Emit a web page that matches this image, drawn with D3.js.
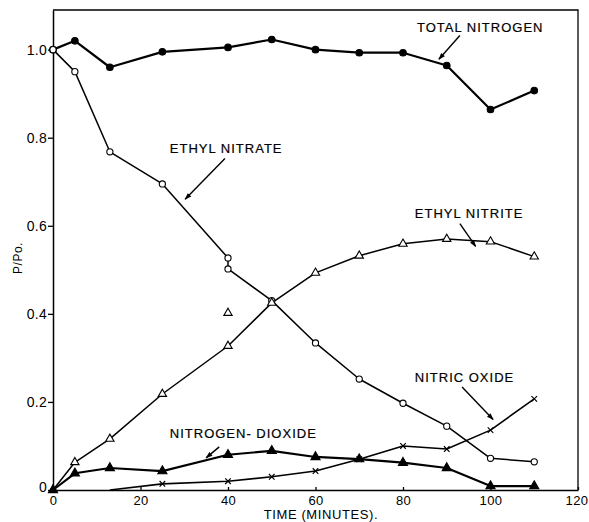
<!DOCTYPE html>
<html>
<head>
<meta charset="utf-8">
<script src="https://cdn.jsdelivr.net/npm/d3@7"></script>
<style>
  body { margin: 0; background: #fff; }
  svg { font-family: "Liberation Sans", Arial, sans-serif; }
</style>
</head>
<body>
<div id="chart"></div>
<script>
// time in minutes
const times = [0, 5, 13, 25, 40, 50, 60, 70, 80, 90, 100, 110];
const totalNitrogen = [1.0, 1.02, 0.96, 0.995, 1.005, 1.023, 1.0, 0.993, 0.993, 0.964, 0.864, 0.907];
const ethylNitrite = [0, 0.063, 0.116, 0.218, 0.327, 0.425, 0.493, 0.532, 0.559, 0.57, 0.564, 0.53];
const nitrogenDioxide = [0, 0.038, 0.05, 0.043, 0.08, 0.089, 0.075, 0.07, 0.062, 0.05, 0.009, 0.009];
// ethyl nitrate has two readings at 40 min
const nitrateTimes = [0, 5, 13, 25, 40, 40, 50, 60, 70, 80, 90, 100, 110];
const ethylNitrate = [1.0, 0.95, 0.768, 0.695, 0.527, 0.502, 0.43, 0.334, 0.252, 0.197, 0.145, 0.072, 0.064];
// nitric oxide starts later
const oxideTimes = [13, 25, 40, 50, 60, 70, 80, 90, 100, 110];
const nitricOxide = [0, 0.014, 0.02, 0.03, 0.043, 0.07, 0.1, 0.093, 0.136, 0.207];
// stray ethyl nitrite reading, not on the curve
const nitriteOutlierTime = [40];
const nitriteOutlier = [0.402];

const xTicks = [0, 20, 40, 60, 80, 100, 120];
const yTicks = [0, 0.2, 0.4, 0.6, 0.8, 1.0];
const labels = ['TOTAL NITROGEN', 'ETHYL NITRATE', 'ETHYL NITRITE', 'NITRIC OXIDE', 'NITROGEN- DIOXIDE'];

const W = 589, H = 522;
const margin = { top: 10, right: 11, bottom: 32, left: 53 };
const width = W - margin.left - margin.right;
const height = H - margin.top - margin.bottom;

const svg = d3.select('#chart').append('svg')
  .attr('width', W).attr('height', H);

svg.append('defs').append('marker')
  .attr('id', 'head')
  .attr('viewBox', '0 0 10 10')
  .attr('refX', 9).attr('refY', 5)
  .attr('markerWidth', 10).attr('markerHeight', 7)
  .attr('markerUnits', 'userSpaceOnUse')
  .attr('orient', 'auto')
  .append('path').attr('d', 'M0,1.5 L10,5 L0,8.5 Z').attr('fill', '#000');

const g = svg.append('g')
  .attr('transform', 'translate(' + margin.left + ',' + margin.top + ')');

const x = d3.scaleLinear().domain([0, 120]).range([0, width]);
const y = d3.scaleLinear().domain([0, 1.09]).range([height, 0]);

// frame (top and right)
g.append('path')
  .attr('d', 'M0,0 H' + width + ' V' + height)
  .attr('fill', 'none').attr('stroke', '#000').attr('stroke-width', 1.3);

// axes
const xAxis = g.append('g')
  .attr('transform', 'translate(0,' + height + ')')
  .call(d3.axisBottom(x).tickValues(xTicks).tickFormat(d3.format('d')).tickSizeInner(-3).tickSizeOuter(0));
xAxis.selectAll('text').attr('dy', '0.9em').attr('font-size', 13).attr('letter-spacing', 0.4);
// keep the last label inside the page
xAxis.selectAll('.tick').filter(d => d === 120).select('text')
  .attr('text-anchor', 'end').attr('x', 10);

const yAxis = g.append('g')
  .call(d3.axisLeft(y).tickValues(yTicks).tickFormat(d => d === 0 ? '0' : d3.format('.1f')(d)).tickSizeInner(5).tickSizeOuter(0).tickPadding(1));
yAxis.selectAll('text').attr('font-size', 14).attr('letter-spacing', 0.3);

[xAxis, yAxis].forEach(a => {
  a.select('.domain').attr('stroke', '#000').attr('stroke-width', 1.5);
  a.selectAll('line').attr('stroke', '#000').attr('stroke-width', 1.3);
  a.selectAll('text').attr('fill', '#000').attr('font-family', '"Liberation Sans", Arial, sans-serif');
});
// the origin label on y axis sits a bit lower
yAxis.selectAll('.tick').filter(d => d === 0).select('text').attr('dy', '0.1em');

// axis titles
svg.append('text')
  .attr('x', 321).attr('y', 519)
  .attr('text-anchor', 'middle')
  .attr('font-size', 13).attr('letter-spacing', 0.6)
  .text('TIME (MINUTES).');

svg.append('text')
  .attr('transform', 'translate(22,258) rotate(-90)')
  .attr('text-anchor', 'middle')
  .attr('font-size', 12).attr('letter-spacing', 0.5)
  .text('P/Po.');

// lines
const line = d3.line().x(d => x(d[0])).y(d => y(d[1]));
const zip = (ts, vs) => ts.map((t, i) => [t, vs[i]]);

const series = [
  { pts: zip(times, totalNitrogen), w: 2.2, mark: 'dot' },
  { pts: zip(nitrateTimes, ethylNitrate), w: 1.5, mark: 'circle' },
  { pts: zip(times, ethylNitrite), w: 1.5, mark: 'tri' },
  { pts: zip(times, nitrogenDioxide), w: 2.2, mark: 'ftri' },
  { pts: zip(oxideTimes, nitricOxide), w: 1.6, mark: 'x' }
];

series.forEach(s => {
  g.append('path').datum(s.pts)
    .attr('d', line)
    .attr('fill', 'none').attr('stroke', '#000')
    .attr('stroke-width', s.w).attr('stroke-linejoin', 'round');
});

const sym = {
  dot: d3.symbol(d3.symbolCircle, 34),
  circle: d3.symbol(d3.symbolCircle, 30),
  tri: d3.symbol(d3.symbolTriangle, 30),
  ftri: d3.symbol(d3.symbolTriangle, 36),
  x: d3.symbol(d3.symbolX, 22)
};

function drawMarks(pts, mark) {
  g.append('g').selectAll('path')
    .data(pts).enter().append('path')
    .attr('transform', d => 'translate(' + x(d[0]) + ',' + y(d[1]) + ')')
    .attr('d', sym[mark])
    .attr('fill', mark === 'dot' || mark === 'ftri' ? '#000' : (mark === 'x' ? 'none' : '#fff'))
    .attr('stroke', '#000')
    .attr('stroke-width', mark === 'x' ? 1.2 : 1.1);
}

series.forEach(s => drawMarks(s.mark === 'x' ? s.pts.slice(1) : s.pts, s.mark));
drawMarks(zip(nitriteOutlierTime, nitriteOutlier), 'tri');

// annotations: label position and arrow, in data units
const notes = [
  { text: labels[0], at: [83.2, 1.041], from: [93.0, 1.032], to: [88.2, 0.978] },
  { text: labels[1], at: [26.7, 0.766], from: [39.3, 0.753], to: [30.2, 0.66] },
  { text: labels[2], at: [82.7, 0.618], from: [93.0, 0.605], to: [96.6, 0.553] },
  { text: labels[3], at: [82.7, 0.245], from: [93.5, 0.234], to: [100.6, 0.16] },
  { text: labels[4], at: [26.7, 0.118], from: [38.0, 0.098], to: [35.0, 0.073] }
];

notes.forEach(n => {
  g.append('text')
    .attr('x', x(n.at[0])).attr('y', y(n.at[1]))
    .attr('font-size', 13).attr('letter-spacing', 1)
    .attr('stroke', '#000').attr('stroke-width', 0.2)
    .text(n.text);
  g.append('line')
    .attr('x1', x(n.from[0])).attr('y1', y(n.from[1]))
    .attr('x2', x(n.to[0])).attr('y2', y(n.to[1]))
    .attr('stroke', '#000').attr('stroke-width', 1.4)
    .attr('marker-end', 'url(#head)');
});
</script>
</body>
</html>
